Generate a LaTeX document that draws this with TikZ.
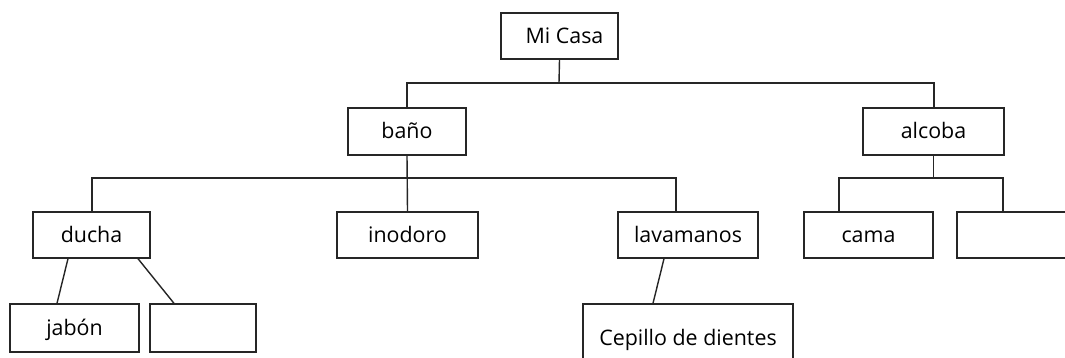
\documentclass[tikz,border=0pt]{standalone}
\usepackage{fontspec}
\setmainfont{Open Sans}
\begin{document}
\begin{tikzpicture}[x=1pt,y=-1pt,
  box/.style={draw=black!85,line width=1.4pt,inner sep=0pt,text height=16pt,text depth=2pt,
    font=\fontsize{21.4}{25}\selectfont,text=black},
  link/.style={draw=black!85,line width=1.4pt}]
\useasboundingbox (0,0) rectangle (1065,357);
\clip (0,0) rectangle (1065,357);
\fill[white] (0,0) rectangle (1065,357);
% level 0
\node[box,minimum width=117pt,minimum height=46pt] (casa) at (559.5,36) {\hspace{10pt}Mi Casa};
% level 1
\node[box,minimum width=118pt,minimum height=47pt] (bano) at (407,131.5) {baño};
\node[box,minimum width=141pt,minimum height=47pt] (alcoba) at (933.5,131.5) {alcoba};
% level 2
\node[box,minimum width=117pt,minimum height=46pt] (ducha) at (91.5,235) {ducha};
\node[box,minimum width=141pt,minimum height=46pt] (inodoro) at (407.5,235) {inodoro};
\node[box,minimum width=140pt,minimum height=46pt] (lavamanos) at (688,235) {lavamanos};
\node[box,minimum width=129pt,minimum height=46pt] (cama) at (868.5,235) {cama\hspace{9pt}};
\node[box,minimum width=142pt,minimum height=46pt] (vacio2) at (1028,235) {};
% level 3
\node[box,minimum width=129pt,minimum height=48pt] (jabon) at (74.5,328) {jabón\hspace{21pt}};
\node[box,minimum width=106pt,minimum height=48pt] (vacio1) at (203,328) {};
\node[box,minimum width=210pt,minimum height=68pt] (cepillo) at (688,338) {Cepillo de dientes};
% connectors
\coordinate (j0) at (559,83);
\draw[link] (casa.south) -- (j0);
\draw[link] (j0) -| (bano.north);
\draw[link] (j0) -| ([xshift=0.5pt]alcoba.north);
\coordinate (j1) at (407,178);
\draw[link] (bano.south) -- (inodoro.north);
\draw[link] (j1) -| ([xshift=0.5pt]ducha.north);
\draw[link] (j1) -| ([xshift=-12pt]lavamanos.north);
\coordinate (j2) at (933.5,178);
\draw[link] (alcoba.south) -- (j2);
\draw[link] (j2) -| ([xshift=-29.5pt]cama.north);
\draw[link] (j2) -| ([xshift=-25pt]vacio2.north);
\draw[link] ([xshift=-23.5pt]ducha.south) -- ([xshift=-17.5pt]jabon.north);
\draw[link] ([xshift=46.5pt]ducha.south) -- ([xshift=-29pt]vacio1.north);
\draw[link] ([xshift=-24pt]lavamanos.south) -- ([xshift=-35pt]cepillo.north);
\end{tikzpicture}
\end{document}
